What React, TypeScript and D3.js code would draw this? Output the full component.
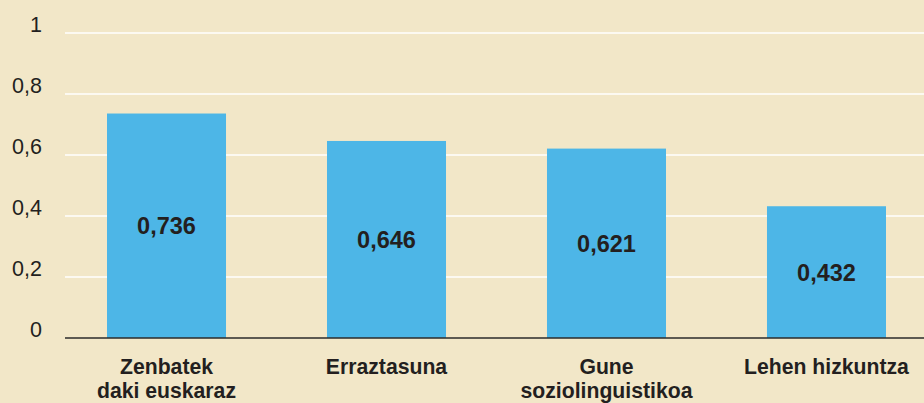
import React from "react";
import * as d3 from "d3";

const categories: string[][] = [
  ["Zenbatek", "daki euskaraz"],
  ["Erraztasuna"],
  ["Gune", "soziolinguistikoa"],
  ["Lehen hizkuntza"],
];
const values: number[] = [0.736, 0.646, 0.621, 0.432];
const valueLabels: string[] = ["0,736", "0,646", "0,621", "0,432"];
const yTicks: number[] = [0, 0.2, 0.4, 0.6, 0.8, 1];
const yTickLabels: string[] = ["0", "0,2", "0,4", "0,6", "0,8", "1"];

const W = 924;
const H = 403;
const FONT = "'Liberation Sans', Arial, Helvetica, sans-serif";

export default function App() {
  const y = d3.scaleLinear().domain([0, 1]).range([338, 33]);
  const keys = categories.map((_, i) => String(i));
  const x = d3
    .scaleBand<string>()
    .domain(keys)
    .range([107, 886])
    .paddingInner(0.459)
    .paddingOuter(0);
  const plotLeft = 65;

  return (
    <svg
      width={W}
      height={H}
      style={{ position: "fixed", left: 0, top: 0, display: "block" }}
      fontFamily={FONT}
    >
      <rect x={0} y={0} width={W} height={H} fill="#f2e7c8" />
      {yTicks.map((t, i) => (
        <g key={i}>
          {t !== 0 && (
            <line
              x1={plotLeft}
              x2={W}
              y1={y(t)}
              y2={y(t)}
              stroke="#ffffff"
              strokeWidth={1.5}
            />
          )}
          <text
            x={42}
            y={y(t) - 1}
            textAnchor="end"
            fontSize={21.5}
            fill="#231f20"
          >
            {yTickLabels[i]}
          </text>
        </g>
      ))}
      {values.map((v, i) => {
        const bx = x(keys[i]) as number;
        const bw = x.bandwidth();
        const top = y(v);
        const mid = (top + y(0)) / 2;
        return (
          <g key={i}>
            <rect x={bx} y={top} width={bw} height={y(0) - top} fill="#4db6e7" />
            <text
              x={bx + bw / 2}
              y={mid + 8.5}
              textAnchor="middle"
              fontSize={23.5}
              fontWeight="bold"
              fill="#231f20"
            >
              {valueLabels[i]}
            </text>
          </g>
        );
      })}
      <line x1={plotLeft} x2={W} y1={y(0)} y2={y(0)} stroke="#2b2b2b" strokeWidth={1.5} />
      {categories.map((lines, i) => {
        const cx = (x(keys[i]) as number) + x.bandwidth() / 2;
        return (
          <text
            key={i}
            x={cx}
            textAnchor="middle"
            fontSize={21.2}
            fontWeight="bold"
            fill="#231f20"
          >
            {lines.map((l, j) => (
              <tspan key={j} x={cx} y={374 + j * 24}>
                {l}
              </tspan>
            ))}
          </text>
        );
      })}
    </svg>
  );
}
